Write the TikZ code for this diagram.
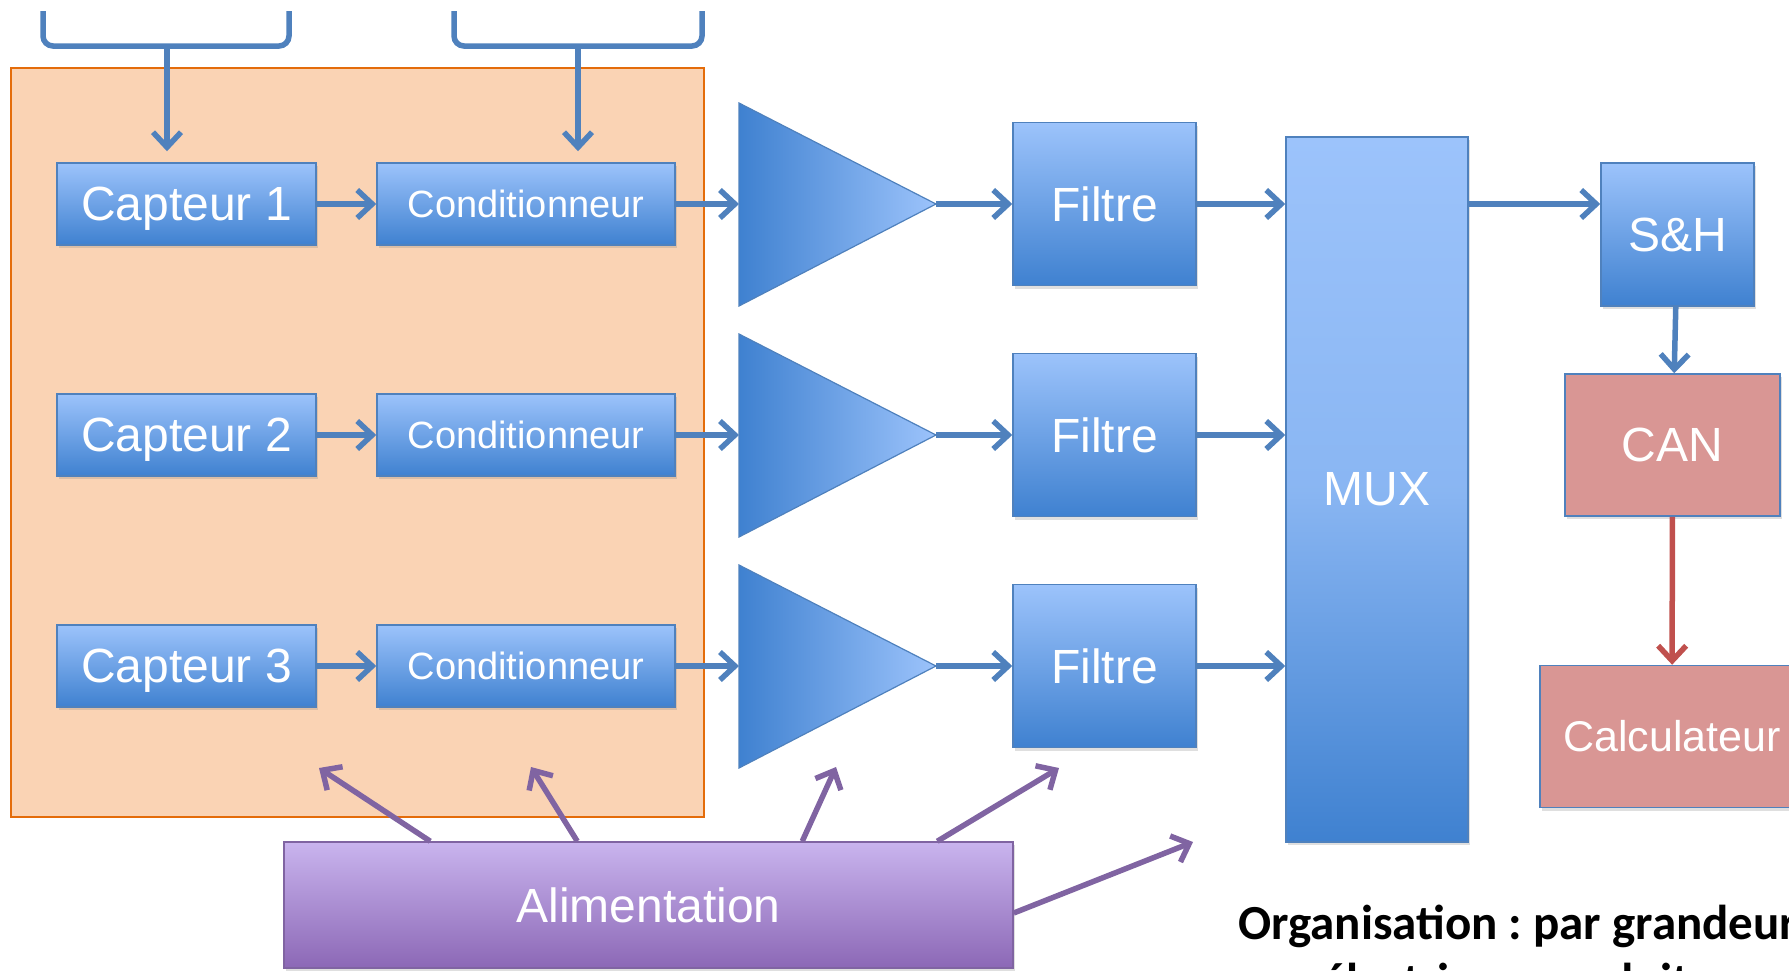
\documentclass[tikz,border=0pt]{standalone}
\usepackage{fontspec}
\setmainfont{Liberation Sans}
\newfontfamily\notefont{Carlito}
\usepackage{tikz}
\usetikzlibrary{arrows.meta,positioning,shadows}
\frenchspacing

\definecolor{bleuclair}{HTML}{9CC3FB}
\definecolor{bleufonce}{HTML}{3F81D0}
\definecolor{bordbleu}{HTML}{4F81BD}
\definecolor{orangefond}{HTML}{FAD3B4}
\definecolor{orangebord}{HTML}{E46C0A}
\definecolor{violetclair}{HTML}{C9B4EE}
\definecolor{violetfonce}{HTML}{8C68B6}
\definecolor{violetfleche}{HTML}{8064A2}
\definecolor{rosefond}{HTML}{D99694}
\definecolor{rougefleche}{HTML}{C0504D}

\begin{document}
\begin{tikzpicture}[x=1pt,y=-1pt,->,>={Straight Barb[length=15pt,width=28pt]},
    node distance=231pt]
    \tikzstyle{bloc}=[draw=bordbleu,line width=1.5pt,text=white,
      top color=bleuclair,middle color=bleuclair!75!bleufonce,bottom color=bleufonce,
      drop shadow={opacity=0.25,shadow xshift=2pt,shadow yshift=-3pt},
      font=\fontsize{48}{50}\selectfont]
    \tikzstyle{capteur}=[bloc,minimum width=259pt,minimum height=82pt,text depth=0pt]
    \tikzstyle{cond}=[bloc,minimum width=298pt,minimum height=82pt,
      font=\fontsize{38}{40}\selectfont]
    \tikzstyle{filtre}=[bloc,minimum width=183pt,minimum height=163pt]
    \tikzstyle{rose}=[draw=bordbleu,line width=1.5pt,fill=rosefond,text=white,
      drop shadow={opacity=0.25,shadow xshift=2pt,shadow yshift=-3pt},
      minimum height=142pt]
    \tikzstyle{ampli}=[-,draw=bordbleu,line width=1.2pt,left color=bleufonce,right color=bleuclair]
    \tikzstyle{fleche}=[draw=bordbleu,line width=5.5pt]
    \tikzstyle{alimfleche}=[draw=violetfleche,line width=5.5pt]
    \tikzstyle{note}=[inner sep=0pt,font=\notefont\bfseries\fontsize{49}{58}\selectfont]

    \useasboundingbox (0,0) rectangle (1789,970);

    % zone capteurs
    \node[draw=orangebord,line width=1.5pt,fill=orangefond,
      minimum width=693pt,minimum height=749pt] (zone) at (357.5,442.5) {};

    \node[capteur] (cap1) at (186.5,204) {Capteur 1};
    \node[capteur] (cap2) [below of=cap1] {Capteur 2};
    \node[capteur] (cap3) [below of=cap2] {Capteur 3};

    \node[cond] (cond1) [node distance=339.5pt,right of=cap1] {Conditionneur};
    \node[cond] (cond2) [below of=cond1] {Conditionneur};
    \node[cond] (cond3) [below of=cond2] {Conditionneur};

    % amplis
    \draw[ampli] (739,103) -- (936,204) -- (739,306) -- cycle;
    \draw[ampli] (739,334) -- (936,435) -- (739,537) -- cycle;
    \draw[ampli] (739,565) -- (936,666) -- (739,768) -- cycle;
    \coordinate (amp1) at (739,204);
    \coordinate (amp2) at (739,435);
    \coordinate (amp3) at (739,666);
    \coordinate (amp1s) at (936,204);
    \coordinate (amp2s) at (936,435);
    \coordinate (amp3s) at (936,666);

    \node[filtre] (filt1) at (1104.5,204) {Filtre};
    \node[filtre] (filt2) [below of=filt1] {Filtre};
    \node[filtre] (filt3) [below of=filt2] {Filtre};

    \node[bloc,minimum width=182pt,minimum height=705pt,
      middle color=bleuclair!80!bleufonce] (mux) at (1377,489.5) {MUX};

    \node[bloc,minimum width=153pt,minimum height=143pt] (sh) at (1677.5,234.5) {S\&H};
    \node[rose,minimum width=215pt,font=\fontsize{48}{50}\selectfont] (can) at (1672.5,445) {CAN};
    \node[rose,minimum width=264pt,font=\fontsize{43}{45}\selectfont] (calc) at (1672,736.5) {Calculateur};

    \node[draw=violetfleche,line width=1.5pt,text=white,
      top color=violetclair,middle color=violetclair!85!violetfonce,bottom color=violetfonce,
      drop shadow={opacity=0.25,shadow xshift=2pt,shadow yshift=-3pt},
      minimum width=729pt,minimum height=126pt,font=\fontsize{48}{50}\selectfont]
      (alim) at (648.5,905) {Alimentation};

    % accolades
    \coordinate (acc1) at (167,46);
    \coordinate (acc2) at (578,46);
    \draw[fleche,-,rounded corners=10pt] (43,11) |- (acc1) -| (289,11);
    \draw[fleche,-,rounded corners=10pt] (454,11) |- (acc2) -| (702,11);
    \draw[fleche,shorten >=11pt] (acc1) -- (acc1 |- cap1.north);
    \draw[fleche,shorten >=11pt] (acc2) -- (acc2 |- cond1.north);

    % chaine
    \draw[fleche] (cap1) -- (cond1);
    \draw[fleche] (cap2) -- (cond2);
    \draw[fleche] (cap3) -- (cond3);
    \draw[fleche] (cond1) -- (amp1);
    \draw[fleche] (cond2) -- (amp2);
    \draw[fleche] (cond3) -- (amp3);
    \draw[fleche] (amp1s) -- (filt1);
    \draw[fleche] (amp2s) -- (filt2);
    \draw[fleche] (amp3s) -- (filt3);
    \draw[fleche] (filt1) -- (filt1 -| mux.west);
    \draw[fleche] (filt2) -- (filt2 -| mux.west);
    \draw[fleche] (filt3) -- (filt3 -| mux.west);
    \draw[fleche] (cap1 -| mux.east) -- (cap1 -| sh.west);
    \draw[fleche] (sh) -- (can);
    \draw[fleche,draw=rougefleche] (can) -- (calc);

    % alimentation
    \coordinate (pA) at (319,768);
    \coordinate (pB) at (531,767);
    \coordinate (pC) at (836,767);
    \coordinate (pD) at (1059,768);
    \coordinate (pE) at (1193,842);
    \draw[alimfleche] ([xshift=147pt]alim.north west) -- (pA);
    \draw[alimfleche] ([xshift=294pt]alim.north west) -- (pB);
    \draw[alimfleche] ([xshift=519pt]alim.north west) -- (pC);
    \draw[alimfleche] ([xshift=654pt]alim.north west) -- (pD);
    \draw[alimfleche] ([yshift=-8pt]alim.east) -- (pE);

    \node[note,anchor=base west] (org1) at (1238,939) {Organisation : par grandeur};
    \node[note,anchor=base] (org2) at ([yshift=-58pt]org1.base) {électrique produite};
  \end{tikzpicture}
\end{document}
